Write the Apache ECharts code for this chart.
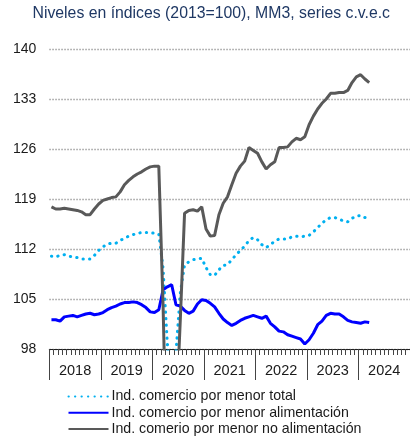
<!DOCTYPE html>
<html>
<head>
<meta charset="utf-8">
<script src="https://cdn.jsdelivr.net/npm/echarts@6/dist/echarts.min.js"></script>
<style>
html,body{margin:0;padding:0;background:#fff;}
#chart{width:410px;height:439px;}
</style>
</head>
<body>
<div id="chart"></div>
<script>
var years = ['2018','2019','2020','2021','2022','2023','2024'];
var months = [];
years.forEach(function(y){ for (var m = 1; m <= 12; m++) months.push(y + '-' + (m < 10 ? '0' + m : m)); });

var yTicks = [98, 105, 112, 119, 126, 133, 140];

var seriesNames = [
  'Ind. comercio por menor total',
  'Ind. comercio por menor alimentación',
  'Ind. comerio por menor no alimentación'
];

var total = [
  111.0,110.9,111.1,111.2,111.0,110.9,110.8,110.6,110.6,110.6,111.1,111.8,
  112.3,112.7,112.8,112.8,113.2,113.5,113.8,114.0,114.2,114.3,114.3,114.3,
  114.2,114.1,109.3,98.6,90.0,97.5,105.8,109.8,110.2,110.5,110.6,110.7,
  109.4,108.4,108.3,109.1,109.7,109.8,110.5,111.2,111.8,112.4,113.2,113.6,
  113.3,112.6,112.2,112.6,113.1,113.4,113.4,113.4,113.7,113.8,113.7,113.8,
  113.9,114.4,115.0,115.6,116.1,116.4,116.4,116.2,115.9,115.8,116.3,116.6,
  116.7,116.4,116.3
];

var alimentacion = [
  102.1,102.1,101.9,102.5,102.6,102.7,102.5,102.7,102.9,103.0,102.8,102.9,
  103.1,103.5,103.8,104.0,104.3,104.5,104.5,104.6,104.5,104.2,103.8,103.2,
  103.1,103.5,106.3,106.7,107.0,104.2,104.0,103.4,103.0,103.3,104.3,104.9,
  104.8,104.4,103.9,103.0,102.2,101.7,101.3,101.6,102.0,102.3,102.5,102.7,
  102.5,102.3,102.6,101.6,101.1,100.5,100.4,100.0,99.8,99.6,99.4,98.7,
  99.3,100.2,101.4,101.9,102.7,103.0,102.9,102.9,102.5,102.0,101.8,101.7,
  101.6,101.8,101.7
];

var noAlimentacion = [
  117.9,117.6,117.6,117.7,117.6,117.5,117.4,117.2,116.8,116.8,117.6,118.3,
  118.8,119.0,119.2,119.3,120.0,121.0,121.6,122.1,122.5,122.8,123.2,123.5,
  123.6,123.6,104.0,78.0,76.0,88.0,102.0,117.0,117.4,117.5,117.3,117.9,
  114.8,113.8,113.9,116.8,118.4,119.3,121.0,122.6,123.6,124.3,126.2,125.8,
  125.4,124.2,123.2,123.8,124.2,126.2,126.2,126.3,127.0,127.5,127.3,127.7,
  129.4,130.6,131.6,132.4,133.0,133.8,133.8,133.9,133.9,134.2,135.3,136.1,
  136.4,135.8,135.3
];

var FONT = '"Liberation Sans", Arial, sans-serif';
var chart = echarts.init(document.getElementById('chart'), null, {renderer: 'canvas'});

chart.setOption({
  animation: false,
  backgroundColor: '#ffffff',
  title: {
    text: 'Niveles en índices (2013=100), MM3, series c.v.e.c',
    left: 32.5, top: 5.5, padding: 0,
    textStyle: {fontFamily: FONT, fontSize: 15.8, fontWeight: 'normal', color: '#1F3864'}
  },
  grid: {left: 49.3, right: -1.5, top: 49, bottom: 90, containLabel: false},
  legend: {
    orient: 'vertical', left: 67.5, top: 389.5, padding: 0,
    itemWidth: 40, itemHeight: 14.5, itemGap: 2.2,
    itemStyle: {opacity: 0},
    textStyle: {fontFamily: FONT, fontSize: 14.2, color: '#1a1a1a', padding: [0,0,0,-2]},
    data: seriesNames
  },
  xAxis: [
    {
      type: 'category', data: months, boundaryGap: true, position: 'bottom',
      axisLine: {show: true, lineStyle: {color: '#222', width: 1}},
      axisTick: {show: true, interval: 0, length: 6, lineStyle: {color: '#444', width: 1}},
      axisLabel: {show: false},
      splitLine: {show: false}
    },
    {
      type: 'category', data: years, boundaryGap: true, position: 'bottom',
      axisLine: {show: false},
      axisTick: {show: true, interval: 0, length: 31, lineStyle: {color: '#444', width: 1}},
      axisLabel: {show: true, interval: 0, margin: 14.5, fontFamily: FONT, fontSize: 14.5, color: '#1a1a1a'},
      splitLine: {show: false}
    }
  ],
  yAxis: {
    type: 'value', min: 98, max: 140, interval: 7,
    axisLine: {show: false}, axisTick: {show: false},
    axisLabel: {margin: 13, fontFamily: FONT, fontSize: 14, color: '#1a1a1a',
      formatter: function(v){ return yTicks.indexOf(v) >= 0 ? String(v) : ''; }},
    splitLine: {show: true, lineStyle: {color: '#a0a0a0', width: 1.3, type: [1.5, 1.5]}}
  },
  series: [
    {
      name: seriesNames[0], type: 'line', data: total, xAxisIndex: 0,
      symbol: 'none', clip: true, z: 3,
      lineStyle: {color: '#00B0F0', width: 3, type: [0.3, 6.2], cap: 'round'},
      itemStyle: {color: '#00B0F0'}
    },
    {
      name: seriesNames[1], type: 'line', data: alimentacion, xAxisIndex: 0,
      symbol: 'none', clip: true, z: 4,
      lineStyle: {color: '#0000FF', width: 3},
      itemStyle: {color: '#0000FF'}
    },
    {
      name: seriesNames[2], type: 'line', data: noAlimentacion, xAxisIndex: 0,
      symbol: 'none', clip: true, z: 5,
      lineStyle: {color: '#595959', width: 3},
      itemStyle: {color: '#595959'}
    }
  ]
});
</script>
</body>
</html>
